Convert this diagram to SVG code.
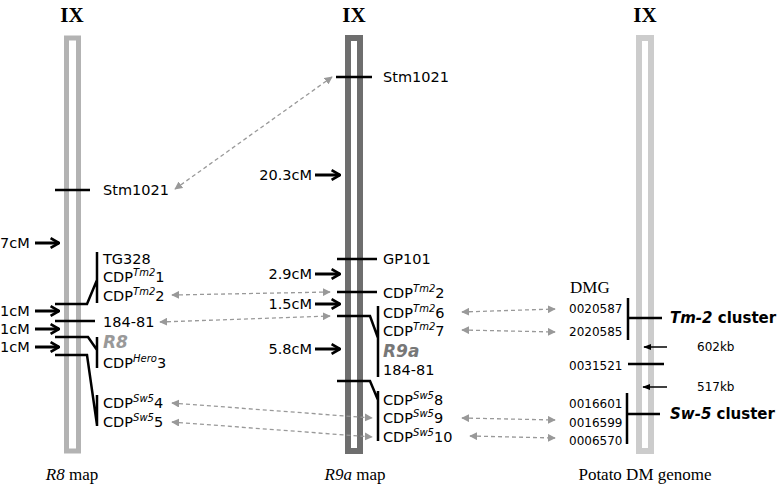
<svg xmlns="http://www.w3.org/2000/svg" width="777" height="495" viewBox="0 0 777 495">
<style>
text{font-family:"DejaVu Sans",Verdana,sans-serif;font-size:14.5px;fill:#000}
.s{font-family:"Liberation Serif","Times New Roman",serif;font-size:17px}
.t{font-family:"Liberation Serif",serif;font-size:21px;font-weight:bold;text-anchor:middle}
.n{font-size:12px}
.k{stroke:#000;stroke-width:2.5;fill:none}
.a{stroke:#000;stroke-width:3;fill:none}
.d{stroke:#999;stroke-width:1.3;stroke-dasharray:4,3;fill:none;marker-start:url(#h);marker-end:url(#h)}
.sp{font-size:10px;font-style:italic}
</style>
<defs>
<marker id="h" viewBox="0 0 10 10" refX="9" refY="5" markerWidth="8" markerHeight="8" orient="auto-start-reverse" markerUnits="userSpaceOnUse"><path d="M0,0 L10,5 L0,10 z" fill="#999"/></marker>
<marker id="b" viewBox="0 0 10 10" refX="9" refY="5" markerWidth="12" markerHeight="12" orient="auto" markerUnits="userSpaceOnUse"><path d="M2,1 L9,5 L2,9" fill="none" stroke="#000" stroke-width="2.2"/></marker>
<marker id="f" viewBox="0 0 10 10" refX="9" refY="5" markerWidth="8" markerHeight="8" orient="auto" markerUnits="userSpaceOnUse"><path d="M0,1 L10,5 L0,9 z" fill="#000"/></marker>
</defs>
<g id="titles">
<text class="t" x="72" y="22">IX</text><text class="t" x="354" y="22">IX</text><text class="t" x="645" y="22">IX</text>
<text class="s" x="72" y="480" text-anchor="middle"><tspan font-style="italic">R8</tspan> map</text>
<text class="s" x="355" y="480" text-anchor="middle"><tspan font-style="italic">R9a</tspan> map</text>
<text class="s" x="645" y="480" text-anchor="middle">Potato DM genome</text>
</g>
<g id="chr-r8"><rect x="66.5" y="38" width="12" height="413" fill="none" stroke="#b3b3b3" stroke-width="5"/></g>
<g id="chr-r9a"><rect x="348" y="38" width="12" height="413" fill="none" stroke="#6e6e6e" stroke-width="6"/></g>
<g id="chr-dm"><rect x="639" y="38" width="12" height="413" fill="none" stroke="#cccccc" stroke-width="6"/></g>
<g id="r8-markers">
<path class="k" d="M55,190H90"/><text x="103" y="195">Stm1021</text>
<path class="k" d="M55,304H87L97,280M97,252V303"/>
<text x="103" y="264">TG328</text>
<text x="103" y="282">CDP<tspan class="sp" dy="-6">Tm2</tspan><tspan dy="6">1</tspan></text>
<text x="103" y="301">CDP<tspan class="sp" dy="-6">Tm2</tspan><tspan dy="6">2</tspan></text>
<path class="k" d="M55,321H95"/><text x="103" y="327">184-81</text>
<path class="k" d="M55,337H88L97,350M97,337V368"/>
<text x="103" y="348" font-weight="bold" font-style="italic" style="fill:#999;font-size:17px">R8</text>
<text x="103" y="368">CDP<tspan class="sp" dy="-6">Hero</tspan><tspan dy="6">3</tspan></text>
<path class="k" d="M55,355H87L97,425M97,395V426"/>
<text x="103" y="408">CDP<tspan class="sp" dy="-6">Sw5</tspan><tspan dy="6">4</tspan></text>
<text x="103" y="427">CDP<tspan class="sp" dy="-6">Sw5</tspan><tspan dy="6">5</tspan></text>
<text x="0" y="248">7cM</text><path class="a" d="M35,243H59" marker-end="url(#b)"/>
<text x="0" y="316">1cM</text><path class="a" d="M35,311H59" marker-end="url(#b)"/>
<text x="0" y="334">1cM</text><path class="a" d="M35,329H59" marker-end="url(#b)"/>
<text x="0" y="352">1cM</text><path class="a" d="M35,347H59" marker-end="url(#b)"/>
</g>
<g id="r9a-markers">
<path class="k" d="M336,77H372"/><text x="383" y="82">Stm1021</text>
<path class="k" d="M337,259H377"/><text x="383" y="264">GP101</text>
<path class="k" d="M337,292H377"/><text x="383" y="298">CDP<tspan class="sp" dy="-6">Tm2</tspan><tspan dy="6">2</tspan></text>
<path class="k" d="M337,316H370L378,338M378,306V377"/>
<text x="383" y="318">CDP<tspan class="sp" dy="-6">Tm2</tspan><tspan dy="6">6</tspan></text>
<text x="383" y="336">CDP<tspan class="sp" dy="-6">Tm2</tspan><tspan dy="6">7</tspan></text>
<text x="383" y="357" font-weight="bold" font-style="italic" style="fill:#777;font-size:17px">R9a</text>
<text x="383" y="375">184-81</text>
<path class="k" d="M337,381H370L378,400M378,391V441"/>
<text x="383" y="405">CDP<tspan class="sp" dy="-6">Sw5</tspan><tspan dy="6">8</tspan></text>
<text x="383" y="423">CDP<tspan class="sp" dy="-6">Sw5</tspan><tspan dy="6">9</tspan></text>
<text x="383" y="442">CDP<tspan class="sp" dy="-6">Sw5</tspan><tspan dy="6">10</tspan></text>
<text x="312" y="180" text-anchor="end">20.3cM</text><path class="a" d="M315,175H340" marker-end="url(#b)"/>
<text x="312" y="279" text-anchor="end">2.9cM</text><path class="a" d="M315,274H340" marker-end="url(#b)"/>
<text x="312" y="309" text-anchor="end">1.5cM</text><path class="a" d="M315,304H340" marker-end="url(#b)"/>
<text x="312" y="354" text-anchor="end">5.8cM</text><path class="a" d="M315,349H340" marker-end="url(#b)"/>
</g>
<g id="dm-markers">
<text class="s" x="570" y="293">DMG</text>
<text class="n" x="569" y="313">0020587</text>
<text class="n" x="569" y="336">2020585</text>
<path class="k" d="M628,298V340M628,318H662"/>
<text x="670" y="323" font-weight="bold" style="font-size:15px"><tspan font-style="italic">Tm-2</tspan> cluster</text>
<path stroke="#000" stroke-width="1.5" d="M667,347H666H644" marker-end="url(#f)"/><text class="n" x="697" y="351">602kb</text>
<text class="n" x="569" y="370">0031521</text>
<path class="k" d="M628,364H664"/>
<path stroke="#000" stroke-width="1.5" d="M667,387H643" marker-end="url(#f)"/><text class="n" x="697" y="391">517kb</text>
<text class="n" x="569" y="408">0016601</text>
<text class="n" x="569" y="427">0016599</text>
<text class="n" x="569" y="445">0006570</text>
<path class="k" d="M627,393V444M627,414H660"/>
<text x="670" y="419" font-weight="bold" style="font-size:15px"><tspan font-style="italic">Sw-5</tspan> cluster</text>
</g>
<g id="connectors">
<path class="d" d="M175,189L332,77"/>
<path class="d" d="M172,295L330,292"/>
<path class="d" d="M160,322L330,316"/>
<path class="d" d="M172,403L372,418"/>
<path class="d" d="M172,422L372,437"/>
<path class="d" d="M462,312L555,309"/>
<path class="d" d="M462,330L555,332"/>
<path class="d" d="M462,418L555,420"/>
<path class="d" d="M470,436L555,438"/>
</g>
</svg>
